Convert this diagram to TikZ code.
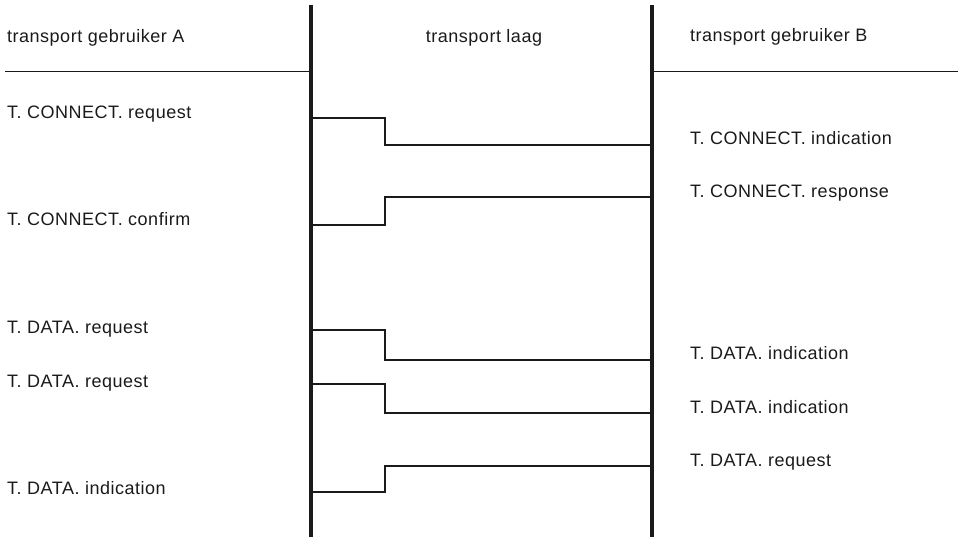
\documentclass[tikz,border=0pt]{standalone}
\usepackage{fontspec}
\setmainfont[LetterSpace=2.8]{Liberation Sans}
\usepackage{xcolor}
\usetikzlibrary{calc}
\definecolor{ink}{HTML}{1A1A1A}

\begin{document}
\begin{tikzpicture}[x=1pt,y=-1pt,
    lbl/.style={anchor=base west,inner sep=0pt,text=ink,
                font=\fontsize{18}{21}\selectfont},
    layer/.style={draw=ink,line width=3.3pt},
    rule/.style={draw=ink,line width=1pt},
    prim/.style={draw=ink,line width=1.2pt}]
  \useasboundingbox (0,0) rectangle (958,537);
  % lagen
  \coordinate (Atop) at (311,5);  \coordinate (Abot) at (311,537);
  \coordinate (Btop) at (652,5);  \coordinate (Bbot) at (652,537);
  \draw[layer] (Atop) -- (Abot);
  \draw[layer] (Btop) -- (Bbot);
  % kopjes
  \node[lbl] (hA) at (7,43) {transport gebruiker A};
  \node[lbl,anchor=base] (hT) at (484,43) {transport laag};
  \node[lbl] (hB) at (690,42) {transport gebruiker B};
  \coordinate (rA) at (5,72);   \coordinate (rB) at (958,72);
  \draw[rule] (rA) -- (Atop|-rA);
  \draw[rule] (Btop|-rB) -- (rB);
  % primitieven
  \foreach \ya/\yb [count=\i] in {118/145,225/197,330/360,384/413,492/466}{
    \coordinate (a\i) at (311,\ya);
    \coordinate (b\i) at (652,\yb);
    \draw[prim] (a\i) -- ++(74,0) |- (b\i);
  }
  \node[lbl] (pA1) at (7,119) {T. CONNECT. request};
  \node[lbl] (pA2) at (7,226) {T. CONNECT. confirm};
  \node[lbl] (pA3) at (7,333) {T. DATA. request};
  \node[lbl] (pA4) at (7,387) {T. DATA. request};
  \node[lbl] (pA5) at (7,494) {T. DATA. indication};
  \node[lbl] (pB1) at (690,145) {T. CONNECT. indication};
  \node[lbl] (pB2) at (690,198) {T. CONNECT. response};
  \node[lbl] (pB3) at (690,359) {T. DATA. indication};
  \node[lbl] (pB4) at (690,413) {T. DATA. indication};
  \node[lbl] (pB5) at (690,466) {T. DATA. request};
\end{tikzpicture}
\end{document}
